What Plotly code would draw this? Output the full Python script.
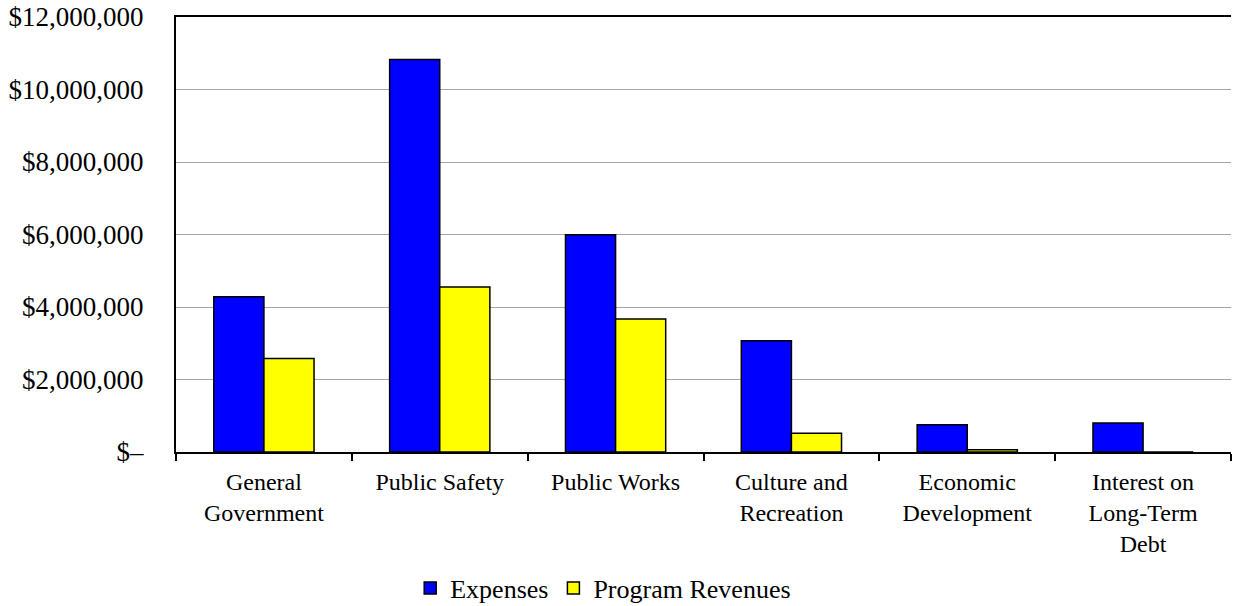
import plotly.graph_objects as go

categories = ["General<br>Government", "Public Safety", "Public Works",
              "Culture and<br>Recreation", "Economic<br>Development",
              "Interest on<br>Long-Term<br>Debt"]
expenses = [4280000, 10830000, 5990000, 3070000, 750000, 800000]
program_revenues = [2580000, 4550000, 3670000, 520000, 60000, 0]
y_tickvals = [0, 2000000, 4000000, 6000000, 8000000, 10000000, 12000000]
y_ticktext = ["$\u2013", "$2,000,000", "$4,000,000", "$6,000,000",
              "$8,000,000", "$10,000,000", "$12,000,000"]

FONT = "Liberation Serif"

fig = go.Figure()
fig.add_trace(go.Bar(x=categories, y=expenses, name="Expenses",
                     marker=dict(color="#0000FF", line=dict(color="black", width=1.5))))
fig.add_trace(go.Bar(x=categories, y=program_revenues, name="Program Revenues",
                     marker=dict(color="#FFFF00", line=dict(color="black", width=1.5))))

fig.update_layout(
    width=1233, height=606,
    margin=dict(l=176, r=2, t=17, b=154, autoexpand=False),
    paper_bgcolor="white", plot_bgcolor="white",
    font=dict(family=FONT, size=26, color="black"),
    barmode="group", bargap=0.43, bargroupgap=0,
    showlegend=True,
    legend=dict(orientation="h", x=0.222, xanchor="left", y=-0.313, yanchor="middle",
                font=dict(family=FONT, size=26, color="black"), itemwidth=30, tracegroupgap=0),
)
fig.update_xaxes(
    type="category", showline=True, linecolor="black", linewidth=2, mirror=True,
    ticks="outside", tickson="boundaries", ticklen=7, tickcolor="black", tickwidth=1.5,
    showgrid=False, automargin=False, ticklabelstandoff=7,
    tickfont=dict(family=FONT, size=24, color="black"),
)
fig.update_yaxes(
    range=[0, 12000000], tickvals=y_tickvals, ticktext=y_ticktext,
    showline=True, linecolor="black", linewidth=2,
    showgrid=True, gridcolor="#a6a6a6", gridwidth=1,
    ticks="", ticklabelstandoff=25, zeroline=False, automargin=False,
    tickfont=dict(family=FONT, size=27, color="black"),
)

fig.write_html(
    "out.html",
    config={"displayModeBar": False},
    post_script="document.body.style.margin='0';document.body.style.overflow='hidden';",
)
